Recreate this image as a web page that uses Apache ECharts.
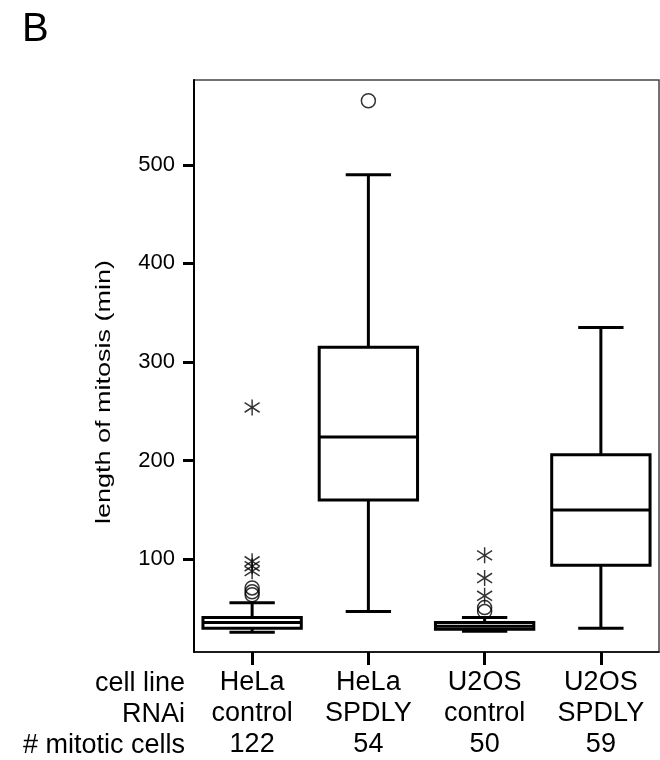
<!DOCTYPE html>
<html>
<head>
<meta charset="utf-8">
<script src="https://cdn.jsdelivr.net/npm/echarts@6/dist/echarts.min.js"></script>
<style>html,body{margin:0;padding:0;background:#fff}#c{width:660px;height:760px}</style>
</head>
<body>
<div id="c"></div>
<script>
// ---- data ----
var cellLine = ['HeLa', 'HeLa', 'U2OS', 'U2OS'];
var rnai = ['control', 'SPDLY', 'control', 'SPDLY'];
var mitoticCells = [122, 54, 50, 59];
var rowHeaders = ['cell line', 'RNAi', '# mitotic cells'];
// [lower whisker, Q1, median, Q3, upper whisker]
var boxStats = [
  [26, 30, 36, 41, 56],
  [47, 160, 224, 315, 490],
  [27, 29, 32, 36, 41],
  [30, 94, 150, 206, 335]
];
// outliers: [category index, value]
var circleOutliers = [[0, 71], [0, 67], [0, 64], [1, 565], [2, 51], [2, 47]];
var starOutliers = [[0, 254], [0, 98], [0, 93], [0, 88], [2, 104], [2, 81], [2, 63]];
var yTicks = [100, 200, 300, 400, 500];
var yName = 'length of mitosis (min)';
var panelLabel = 'B';

var FONT = '"Liberation Sans", Arial, sans-serif';
var chart = echarts.init(document.getElementById('c'), null, {renderer: 'canvas'});

var boxData = boxStats.map(function (s, i) { return [i].concat(s); });

function renderBox(params, api) {
  var x = api.value(0);
  var lo = api.coord([x, api.value(1)]);
  var q1 = api.coord([x, api.value(2)]);
  var md = api.coord([x, api.value(3)]);
  var q3 = api.coord([x, api.value(4)]);
  var hi = api.coord([x, api.value(5)]);
  var band = api.size([1, 0])[0];
  var hw = band * 0.423;
  var cw = band * 0.195;
  var cx = md[0];
  var st = {stroke: '#000', lineWidth: 3, fill: null};
  return {
    type: 'group',
    children: [
      {type: 'line', shape: {x1: cx, y1: hi[1], x2: cx, y2: q3[1]}, style: st},
      {type: 'line', shape: {x1: cx, y1: q1[1], x2: cx, y2: lo[1]}, style: st},
      {type: 'line', shape: {x1: cx - cw, y1: hi[1], x2: cx + cw, y2: hi[1]}, style: st},
      {type: 'line', shape: {x1: cx - cw, y1: lo[1], x2: cx + cw, y2: lo[1]}, style: st},
      {type: 'rect', shape: {x: cx - hw, y: q3[1], width: hw * 2, height: q1[1] - q3[1]}, style: {stroke: '#000', lineWidth: 3, fill: 'rgba(0,0,0,0)'}},
      {type: 'line', shape: {x1: cx - hw, y1: md[1], x2: cx + hw, y2: md[1]}, style: st}
    ]
  };
}

chart.setOption({
  animation: false,
  backgroundColor: '#fff',
  grid: {left: 194, top: 80, right: 1, bottom: 107, show: true, borderColor: '#444', borderWidth: 1.5, backgroundColor: 'transparent'},
  xAxis: {
    type: 'category',
    data: cellLine.map(function (c, i) { return i; }),
    boundaryGap: true,
    axisLine: {show: true, lineStyle: {color: '#000', width: 1.5}},
    axisTick: {show: true, alignWithLabel: true, length: 13, lineStyle: {color: '#000', width: 3}},
    axisLabel: {
      margin: 15,
      fontFamily: FONT, fontSize: 27, color: '#000', lineHeight: 31,
      formatter: function (v, i) { return cellLine[i] + '\n' + rnai[i] + '\n' + mitoticCells[i]; }
    },
    splitLine: {show: false}
  },
  yAxis: {
    type: 'value',
    min: 6, max: 586,
    axisLine: {show: true, lineStyle: {color: '#000', width: 2}},
    axisTick: {show: true, length: 11, customValues: yTicks, lineStyle: {color: '#000', width: 3}},
    axisLabel: {margin: 19, fontFamily: FONT, fontSize: 22, color: '#000', customValues: yTicks},
    splitLine: {show: false}
  },
  graphic: [
    {type: 'text', left: 22, top: 10, style: {text: panelLabel, font: '40px ' + FONT, fill: '#000'}},
    {type: 'text', x: 104, y: 392, rotation: Math.PI / 2, scaleX: 1.35,
      style: {text: yName, font: '20px ' + FONT, fill: '#000', align: 'center', verticalAlign: 'middle'}},
    {type: 'text', x: 185, y: 668,
      style: {text: rowHeaders.join('\n'), font: '27px ' + FONT, lineHeight: 31, fill: '#000', align: 'right', verticalAlign: 'top'}}
  ],
  series: [
    {
      type: 'custom',
      renderItem: renderBox,
      data: boxData,
      encode: {x: 0, y: [1, 2, 3, 4, 5]},
      z: 3
    },
    {
      type: 'scatter',
      data: circleOutliers,
      symbol: 'circle',
      symbolSize: 14,
      itemStyle: {color: 'rgba(0,0,0,0)', borderColor: '#000', borderWidth: 1.5},
      z: 4
    },
    {
      type: 'scatter',
      data: starOutliers,
      symbol: 'path://M10,0L10,20M2,4L18,16M2,16L18,4',
      symbolSize: [15, 16],
      itemStyle: {color: 'rgba(0,0,0,0)', borderColor: '#000', borderWidth: 1.5},
      z: 4
    }
  ]
});
</script>
</body>
</html>
